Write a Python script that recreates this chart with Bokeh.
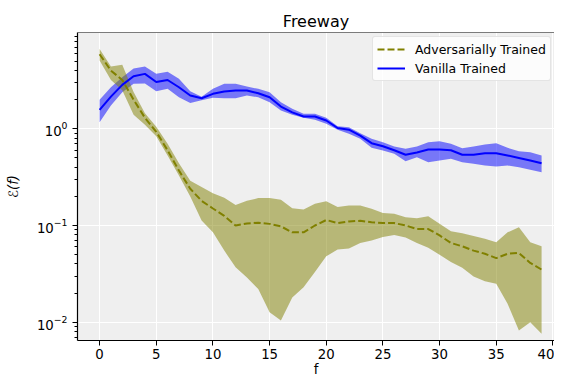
from bokeh.plotting import figure
from bokeh.models import Range1d, FixedTicker, Span, Legend, LegendItem
from bokeh.embed import file_html
from bokeh.resources import INLINE

# ---- data ----
freq = list(range(40))

adv_mean = [5.9, 4.0, 3.2, 2.0, 1.3, 0.93, 0.60, 0.37, 0.24, 0.18,
            0.15, 0.126, 0.100, 0.105, 0.107, 0.104, 0.098, 0.085, 0.085, 0.100,
            0.114, 0.106, 0.110, 0.112, 0.108, 0.106, 0.106, 0.100, 0.092, 0.092,
            0.079, 0.066, 0.061, 0.055, 0.051, 0.046, 0.051, 0.052, 0.041, 0.035]
adv_hi = [6.7, 4.4, 4.6, 2.4, 1.45, 1.05, 0.70, 0.44, 0.29, 0.25,
          0.216, 0.194, 0.163, 0.180, 0.192, 0.192, 0.185, 0.151, 0.146, 0.168,
          0.178, 0.155, 0.161, 0.161, 0.149, 0.135, 0.132, 0.122, 0.119, 0.125,
          0.104, 0.087, 0.083, 0.078, 0.073, 0.067, 0.085, 0.096, 0.067, 0.061]
adv_lo = [5.1, 3.2, 2.5, 1.4, 1.1, 0.84, 0.53, 0.33, 0.20, 0.113,
          0.085, 0.055, 0.037, 0.029, 0.022, 0.0127, 0.0104, 0.018, 0.023, 0.033,
          0.048, 0.0565, 0.058, 0.066, 0.070, 0.076, 0.080, 0.075, 0.066, 0.059,
          0.050, 0.042, 0.0365, 0.0297, 0.0265, 0.025, 0.0155, 0.0082, 0.010, 0.0076]

van_mean = [1.57, 2.15, 2.85, 3.5, 3.7, 3.05, 3.2, 2.69, 2.21, 2.07,
            2.3, 2.43, 2.49, 2.49, 2.33, 2.12, 1.70, 1.48, 1.34, 1.34,
            1.22, 1.02, 0.98, 0.85, 0.71, 0.66, 0.60, 0.54, 0.57, 0.61,
            0.61, 0.60, 0.54, 0.54, 0.56, 0.56, 0.53, 0.50, 0.47, 0.44]
van_hi = [2.0, 2.69, 3.42, 4.2, 4.4, 3.7, 3.9, 3.29, 2.45, 2.15,
          2.59, 2.92, 2.92, 2.74, 2.59, 2.39, 1.88, 1.61, 1.43, 1.43,
          1.30, 1.06, 1.04, 0.90, 0.788, 0.727, 0.656, 0.621, 0.656, 0.727,
          0.744, 0.70, 0.63, 0.656, 0.689, 0.71, 0.636, 0.587, 0.573, 0.53]
van_lo = [1.17, 1.74, 2.39, 2.92, 2.95, 2.45, 2.59, 2.12, 1.85, 1.98,
          2.09, 2.07, 2.07, 2.21, 2.12, 1.88, 1.55, 1.40, 1.30, 1.24,
          1.13, 0.976, 0.887, 0.788, 0.636, 0.597, 0.551, 0.462, 0.508, 0.452,
          0.47, 0.49, 0.452, 0.435, 0.417, 0.407, 0.417, 0.40, 0.377, 0.356]

x_ticks = [0, 5, 10, 15, 20, 25, 30, 35, 40]
y_ticks = [0.01, 0.1, 1.0]
y_minor = [m * d for d in [0.001, 0.01, 0.1, 1.0] for m in range(2, 10)]

labels = ["Adversarially Trained", "Vanilla Trained"]
title_text = "Freeway"
x_label = "f"
y_label = "ℰ(f)"

FONT = "DejaVu Sans"
OLIVE = "#808000"
BLUE = "#0000ff"

y_lo, y_hi = 0.00647, 9.91

p = figure(width=554, height=379,
           x_range=Range1d(-1.95, 40.14), y_range=Range1d(y_lo, y_hi),
           y_axis_type="log", output_backend="svg", toolbar_location=None,
           min_border_left=77, min_border_right=0, min_border_top=32, min_border_bottom=39,
           background_fill_color="#efefef", border_fill_color="white",
           title=title_text)
p.outline_line_color = None

# title
p.title.align = "center"
p.title.text_font = FONT
p.title.text_font_size = "16px"
p.title.text_font_style = "normal"
p.title.text_color = "black"
p.title.standoff = 3

# bands and lines
p.varea(x=freq, y1=van_lo, y2=van_hi, fill_color=BLUE, fill_alpha=0.5)
p.varea(x=freq, y1=adv_lo, y2=adv_hi, fill_color=OLIVE, fill_alpha=0.5)
van_line = p.line(freq, van_mean, line_color=BLUE, line_width=2)
adv_line = p.line(freq, adv_mean, line_color=OLIVE, line_width=2, line_dash="7 3")

# axes
xa = p.xaxis[0]
xa.ticker = FixedTicker(ticks=x_ticks)
xa.axis_label = x_label
ya = p.yaxis[0]
ya.ticker = FixedTicker(ticks=y_ticks, minor_ticks=y_minor)
ya.axis_label = y_label
for ax in (xa, ya):
    ax.axis_line_color = "black"
    ax.axis_line_width = 1.2
    ax.major_tick_line_color = "black"
    ax.major_tick_in = 0
    ax.major_tick_out = 5
    ax.minor_tick_in = 0
    ax.minor_tick_out = 3
    ax.major_label_text_font = FONT
    ax.major_label_text_font_size = "13.3px"
    ax.major_label_text_color = "black"
    ax.axis_label_text_font = FONT
    ax.axis_label_text_font_size = "13.3px"
    ax.axis_label_text_color = "black"
    ax.axis_label_text_font_style = "normal"
xa.minor_tick_line_color = None
xa.major_label_standoff = 3
xa.axis_label_standoff = 0
ya.minor_tick_line_color = "black"
ya.major_label_standoff = 5
ya.axis_label_standoff = 13
ya.axis_label_text_font_style = "italic"

# grid
p.xgrid.grid_line_color = "white"
p.ygrid.grid_line_color = "white"

# top spine
p.add_layout(Span(location=y_hi, dimension="width", line_color="black", line_width=1.2))

# legend
legend = Legend(items=[LegendItem(label=labels[0], renderers=[adv_line]),
                       LegendItem(label=labels[1], renderers=[van_line])],
                location=(295, 259))
legend.label_text_font = FONT
legend.label_text_font_size = "12.5px"
legend.label_text_color = "black"
legend.glyph_width = 28
legend.glyph_height = 16
legend.label_standoff = 10
legend.label_height = 16
legend.padding = 4
legend.spacing = 3
legend.margin = 0
legend.border_line_color = "#cccccc"
legend.border_line_width = 1
legend.background_fill_color = "white"
legend.background_fill_alpha = 0.8
legend.border_radius = 3
p.add_layout(legend)

open("out.html", "w").write(file_html(p, INLINE))
